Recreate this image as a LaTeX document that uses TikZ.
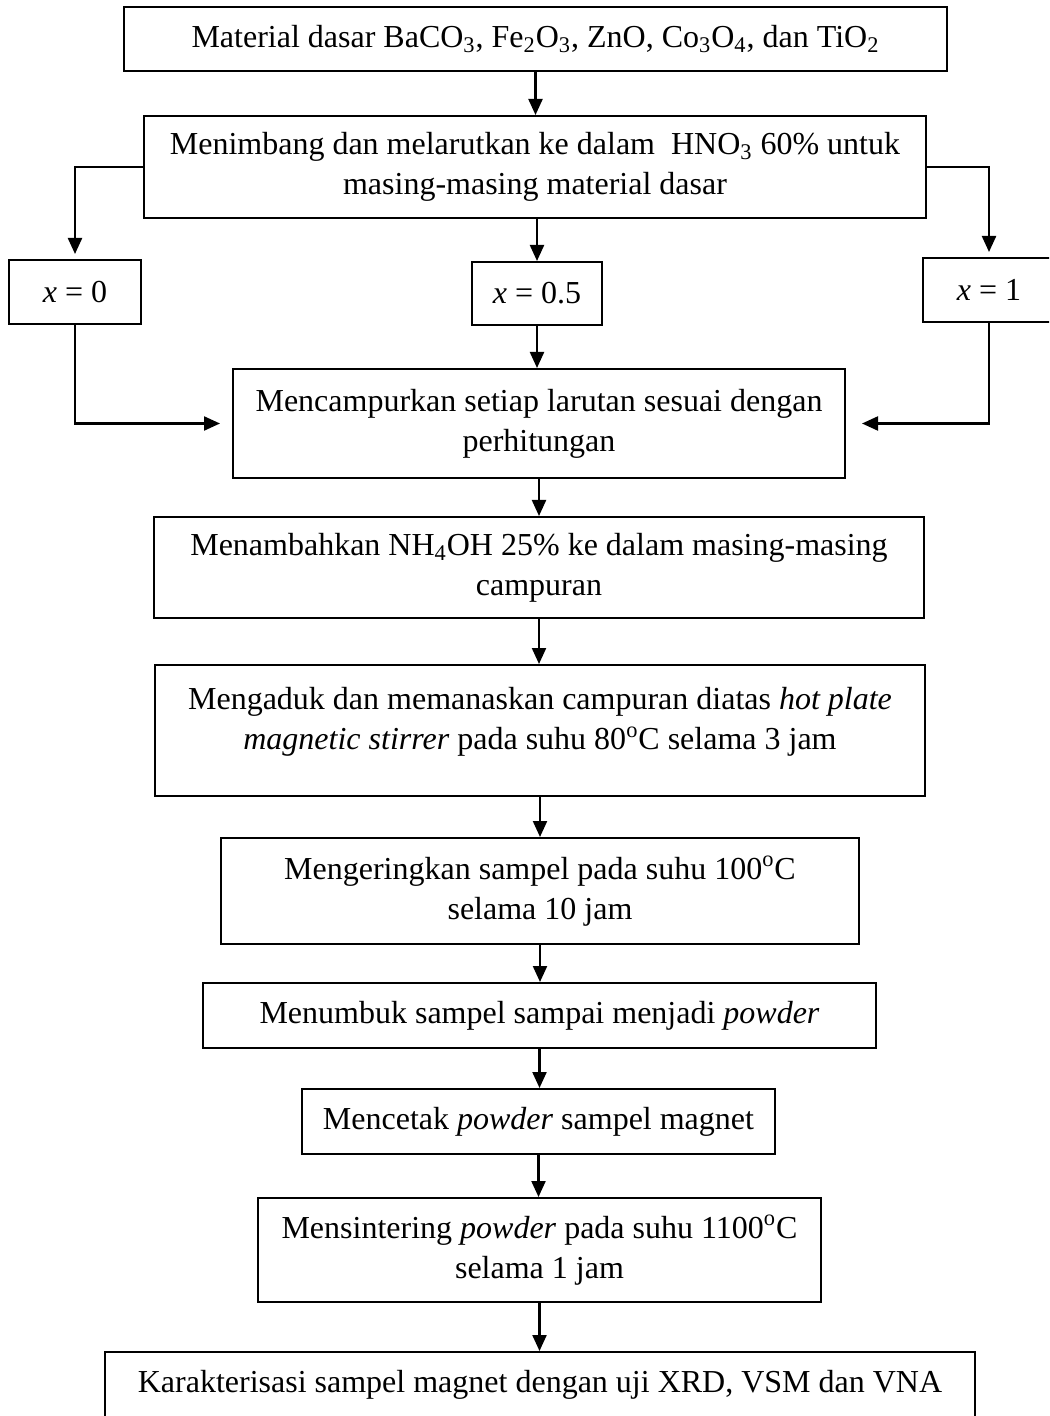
\documentclass[tikz,border=0pt]{standalone}
\usepackage{fontspec}
\setmainfont{Liberation Serif}
\usetikzlibrary{arrows.meta}

\begin{document}
\begin{tikzpicture}[x=0.5pt, y=-0.5pt, >={Triangle[length=8pt,width=7pt]},
	kotak/.style={draw, line width=1pt, inner sep=0pt, align=center, font=\fontsize{16}{20}\selectfont},
	panah/.style={->, line width=1.1pt}]
	\useasboundingbox (0,0) rectangle (1049,1416);
	\clip (0,0) rectangle (1049,1416);

	% Bahan awal
	\node[kotak, minimum width=411.5pt, minimum height=32pt] (bahan) at (535.5,39)
		{Material dasar BaCO\textsubscript{3}, Fe\textsubscript{2}O\textsubscript{3}, ZnO, Co\textsubscript{3}O\textsubscript{4}, dan TiO\textsubscript{2}};
	\node[kotak, minimum width=391pt, minimum height=51pt] (timbang) at (535,167)
		{Menimbang dan melarutkan ke dalam\ \ HNO\textsubscript{3} 60\% untuk\\masing-masing material dasar};

	% Variasi x
	\node[kotak, minimum width=66pt, minimum height=32pt] (xnol) at (75,292) {\textit{x} = 0};
	\node[kotak, minimum width=65pt, minimum height=31.5pt] (xsetengah) at (537,293.5) {\textit{x} = 0.5};
	\node[kotak, minimum width=66pt, minimum height=32pt] (xsatu) at (989,290) {\textit{x} = 1};

	% Proses
	\node[kotak, minimum width=306pt, minimum height=54.5pt] (campur) at (539,423.5)
		{Mencampurkan setiap larutan sesuai dengan\\perhitungan};
	\node[kotak, minimum width=385pt, minimum height=50.5pt] (tambah) at (539,567.5)
		{Menambahkan NH\textsubscript{4}OH 25\% ke dalam masing-masing\\campuran};
	\node[kotak, minimum width=385pt, minimum height=65.5pt, text depth=12pt] (aduk) at (540,730.5)
		{Mengaduk dan memanaskan campuran diatas \textit{hot plate}\\\textit{magnetic stirrer} pada suhu 80\textsuperscript{o}C selama 3 jam};
	\node[kotak, minimum width=319pt, minimum height=53pt] (kering) at (540,891)
		{Mengeringkan sampel pada suhu 100\textsuperscript{o}C\\selama 10 jam};
	\node[kotak, minimum width=336.5pt, minimum height=32.5pt] (tumbuk) at (539.5,1015.5)
		{Menumbuk sampel sampai menjadi \textit{powder}};
	\node[kotak, minimum width=236.5pt, minimum height=32.5pt] (cetak) at (538.5,1121.5)
		{Mencetak \textit{powder} sampel magnet};
	\node[kotak, minimum width=281.5pt, minimum height=52pt] (sinter) at (539.5,1250)
		{Mensintering \textit{powder} pada suhu 1100\textsuperscript{o}C\\selama 1 jam};
	\node[kotak, minimum width=435pt, text height=20pt, text depth=40pt, anchor=north] (uji) at (540,1351)
		{Karakterisasi sampel magnet dengan uji XRD, VSM dan VNA};

	% Panah
	\draw[panah] (bahan.south) -- (bahan.south |- timbang.north);
	\draw[panah, shorten >=2.5pt] (timbang.west) -| (xnol.north);
	\draw[panah] (timbang.south -| xsetengah.north) -- (xsetengah.north);
	\draw[panah, shorten >=2.5pt] (timbang.east) -| (xsatu.north);
	\draw[panah, shorten >=6pt] (xnol.south) |- (campur.west);
	\draw[panah] (xsetengah.south) -- (xsetengah.south |- campur.north);
	\draw[panah, shorten >=8pt] (xsatu.south) |- (campur.east);
	\draw[panah] (campur.south) -- (campur.south |- tambah.north);
	\draw[panah] (tambah.south) -- (tambah.south |- aduk.north);
	\draw[panah] (aduk.south) -- (aduk.south |- kering.north);
	\draw[panah] (kering.south) -- (kering.south |- tumbuk.north);
	\draw[panah] (tumbuk.south) -- (tumbuk.south |- cetak.north);
	\draw[panah] (cetak.south) -- (cetak.south |- sinter.north);
	\draw[panah] (sinter.south) -- (sinter.south |- uji.north);
\end{tikzpicture}
\end{document}
